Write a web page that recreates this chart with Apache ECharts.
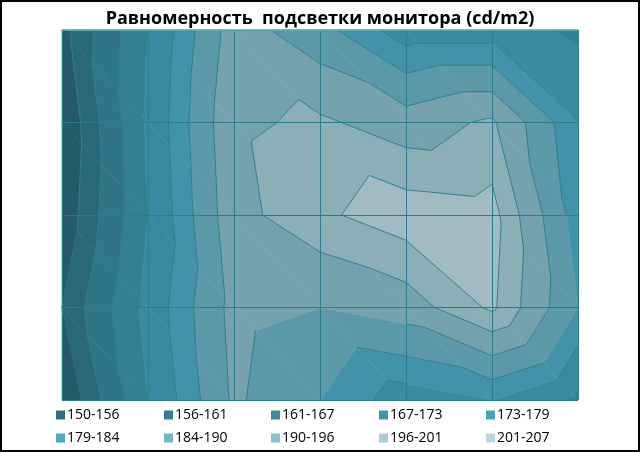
<!DOCTYPE html>
<html><head><meta charset="utf-8">
<script src="https://cdn.jsdelivr.net/npm/echarts@6/dist/echarts.min.js"></script>
<style>html,body{margin:0;padding:0;background:#fff}#c{width:640px;height:452px;box-sizing:border-box;border:2px solid #000}</style>
</head><body><div id="c"></div>
<script>
// grid values: rows top→bottom, columns left→right (cd/m2)
const row0 = [154, 173, 193, 186, 176, 176, 172];
const row1 = [151, 174, 195, 197, 193, 197, 179];
const row2 = [152, 173, 194, 200, 204, 203, 181];
const row3 = [156, 175, 192, 190, 193, 202, 184];
const row4 = [151, 173, 191, 184, 176, 179, 172];
const values = [row0, row1, row2, row3, row4];
const levels = [150, 156, 161, 167, 173, 179, 184, 190, 196, 201, 207];
const bandNames = ['150-156','156-161','161-167','167-173','173-179','179-184','184-190','190-196','196-201','201-207'];
const fillColors = ['#245a6a','#2a6878','#2f7586','#34808f','#3a8a9f','#4293a9','#5c99a8','#76a2ae','#8caeb7','#a2bbc3'];
const legendColors = ['#2e6e7e','#337e93','#3a8ba0','#3e96ac','#46a4bb','#4cabc3','#6fb4c8','#8cc0cf','#a8ccd8','#bcd6df'];
const title = 'Равномерность  подсветки монитора (cd/m2)';

const nR = values.length, nC = values[0].length;
const tris = [];
for (let r = 0; r < nR - 1; r++) for (let c = 0; c < nC - 1; c++) { tris.push([c, r, 0]); tris.push([c, r, 1]); }
function triVerts(d) {
  const c = d[0], r = d[1];
  const p = (cc, rr) => ({cc, rr, v: values[rr][cc]});
  return d[2] === 0 ? [p(c, r), p(c + 1, r), p(c + 1, r + 1)] : [p(c, r), p(c + 1, r + 1), p(c, r + 1)];
}
function clip(pts, lev, keepAbove) {
  const out = [];
  const inside = q => keepAbove ? q.v >= lev : q.v <= lev;
  for (let i = 0; i < pts.length; i++) {
    const a = pts[i], b = pts[(i + 1) % pts.length];
    const ia = inside(a), ib = inside(b);
    if (ia) out.push(a);
    if (ia !== ib) {
      const t = (lev - a.v) / (b.v - a.v);
      out.push({cc: a.cc + t * (b.cc - a.cc), rr: a.rr + t * (b.rr - a.rr), v: lev});
    }
  }
  return out;
}
const series = [];
bandNames.forEach((name, k) => {
  const lo = k === 0 ? -1e9 : levels[k];
  const hi = k === bandNames.length - 1 ? 1e9 : levels[k + 1];
  series.push({
    type: 'custom', name, coordinateSystem: 'cartesian2d', data: tris, z: 2,
    itemStyle: {color: fillColors[k]},
    renderItem: (params, api) => {
      const d = tris[params.dataIndex];
      let pts = triVerts(d);
      pts = clip(pts, lo, true);
      if (pts.length) pts = clip(pts, hi, false);
      if (pts.length < 3) return {type: 'group', children: []};
      return {type: 'polygon', shape: {points: pts.map(q => api.coord([q.cc, q.rr]))},
        style: {fill: fillColors[k], stroke: fillColors[k], lineWidth: 0.6}};
    }
  });
});
series.push({
  type: 'custom', name: 'contours', coordinateSystem: 'cartesian2d', data: tris, z: 3, silent: true,
  renderItem: (params, api) => {
    const pts = triVerts(tris[params.dataIndex]);
    const children = [];
    for (let li = 1; li < levels.length - 1; li++) {
      const L = levels[li], seg = [];
      for (let i = 0; i < 3; i++) {
        const a = pts[i], b = pts[(i + 1) % 3];
        if ((a.v - L) * (b.v - L) < 0) {
          const t = (L - a.v) / (b.v - a.v);
          seg.push(api.coord([a.cc + t * (b.cc - a.cc), a.rr + t * (b.rr - a.rr)]));
        }
      }
      if (seg.length === 2) children.push({type: 'line', shape: {x1: seg[0][0], y1: seg[0][1], x2: seg[1][0], y2: seg[1][1]},
        style: {stroke: '#2b7d8e', lineWidth: 1}});
    }
    return {type: 'group', children};
  }
});
const legendX = [54, 162, 269, 377, 484];
const legends = bandNames.map((n, i) => ({
  data: [{name: n, itemStyle: {color: legendColors[i]}}],
  left: legendX[i % 5], top: i < 5 ? 406 : 429, itemWidth: 9, itemHeight: 9, itemGap: 4,
  icon: 'rect', selectedMode: false, padding: 0,
  textStyle: {fontFamily: 'Open Sans', fontSize: 14, color: '#000', padding: [0, 0, 0, -3]}
}));
const chart = echarts.init(document.getElementById('c'));
chart.setOption({
  animation: false,
  title: {text: title, left: 'center', top: 3, textStyle: {fontFamily: 'Open Sans', fontWeight: 'bold', fontSize: 18, color: '#000'}},
  legend: legends,
  grid: {left: 60, right: 60, top: 28, bottom: 50},
  xAxis: {type: 'value', min: 0, max: nC - 1, interval: 1, z: 5,
    axisLabel: {show: false}, axisTick: {show: false},
    axisLine: {show: true, lineStyle: {color: '#6aaaba', width: 1.5}},
    splitLine: {show: true, lineStyle: {color: '#2b7d8e', width: 1}}},
  yAxis: {type: 'value', min: 0, max: nR - 1, interval: 1, inverse: true, z: 5,
    axisLabel: {show: false}, axisTick: {show: false}, axisLine: {show: false},
    splitLine: {show: true, lineStyle: {color: '#2b7d8e', width: 1}}},
  series
});
</script></body></html>
